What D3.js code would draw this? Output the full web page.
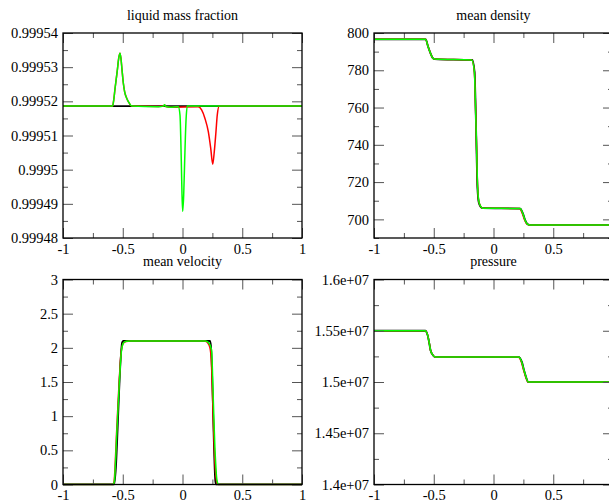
<!DOCTYPE html>
<html><head><meta charset="utf-8">
<script src="https://cdn.jsdelivr.net/npm/d3@7"></script>
<style>body{margin:0;background:#fff}svg{display:block}</style>
</head><body>
<svg id="c" width="609" height="502"></svg>
<script>
// ---------- tick values / labels ----------
const xMajor = [-1, -0.5, 0, 0.5, 1];
const xMinor = [-0.75, -0.25, 0.25, 0.75];
const xLabels = ["-1", "-0.5", "0", "0.5", "1"];

const lmfMajor = [0.99948, 0.99949, 0.9995, 0.99951, 0.99952, 0.99953, 0.99954];
const lmfMinor = [0.999485, 0.999495, 0.999505, 0.999515, 0.999525, 0.999535];
const lmfLabels = ["0.99948", "0.99949", "0.9995", "0.99951", "0.99952", "0.99953", "0.99954"];

const rhoMajor = [700, 720, 740, 760, 780, 800];
const rhoMinor = [690, 710, 730, 750, 770, 790];
const rhoLabels = ["700", "720", "740", "760", "780", "800"];

const velMajor = [0, 0.5, 1, 1.5, 2, 2.5, 3];
const velMinor = [0.25, 0.75, 1.25, 1.75, 2.25, 2.75];
const velLabels = ["0", "0.5", "1", "1.5", "2", "2.5", "3"];

const preMajor = [1.4e7, 1.45e7, 1.5e7, 1.55e7, 1.6e7];
const preMinor = [1.425e7, 1.475e7, 1.525e7, 1.575e7];
const preLabels = ["1.4e+07", "1.45e+07", "1.5e+07", "1.55e+07", "1.6e+07"];

// ---------- liquid mass fraction ----------
const lmfBlackX = [-1, 1];
const lmfBlackY = [0.9995186, 0.9995186];
const lmfRedX = [-1, -0.585, -0.575, -0.565, -0.545, -0.534, -0.523, -0.515, -0.506, -0.495, -0.484, -0.467, -0.448, -0.425,
  -0.2, -0.16, -0.15, -0.14, -0.1, 0.132, 0.16, 0.188, 0.216, 0.236, 0.253, 0.266, 0.28, 0.291, 0.308, 1];
const lmfRedY = [0.9995186, 0.9995186, 0.9995205, 0.9995236, 0.9995292, 0.9995326, 0.9995341, 0.9995326, 0.9995292, 0.9995253, 0.9995228, 0.9995209, 0.9995196, 0.9995186,
  0.9995185, 0.9995186, 0.9995189, 0.9995185, 0.9995183, 0.9995184, 0.9995175, 0.999515, 0.9995111, 0.9995063, 0.9995016, 0.9995053, 0.9995111, 0.999516, 0.9995186, 0.9995186];
const lmfGreenX = [-1, -0.585, -0.575, -0.565, -0.545, -0.534, -0.523, -0.515, -0.506, -0.495, -0.484, -0.467, -0.448, -0.425,
  -0.2, -0.16, -0.15, -0.14, -0.1, -0.05, -0.035, -0.021, -0.01, -0.004, 0.0017, 0.01, 0.018, 0.029, 0.04, 0.1, 1];
const lmfGreenY = [0.9995186, 0.9995186, 0.9995205, 0.9995236, 0.9995292, 0.9995326, 0.9995341, 0.9995326, 0.9995292, 0.9995253, 0.9995228, 0.9995209, 0.9995196, 0.9995186,
  0.9995184, 0.9995186, 0.999519, 0.9995185, 0.9995183, 0.9995184, 0.9995184, 0.999516, 0.9995024, 0.9994926, 0.9994878, 0.9994926, 0.9995024, 0.9995141, 0.9995186, 0.9995186, 0.9995186];

// ---------- mean density ----------
const rhoBlackX = [-1, -0.567, -0.547, -0.527, -0.512, -0.492, -0.178, -0.158, -0.151, -0.142, -0.135, -0.122, -0.095,
  0.224, 0.246, 0.265, 0.283, 0.302, 1];
const rhoBlackY = [796.6, 796.6, 792.6, 789.1, 786.9, 786, 785.5, 779, 764, 737, 717.5, 708.6, 706,
  705.8, 703.2, 699.6, 697.5, 697, 697];
const rhoRedX = [-1, -0.569, -0.547, -0.527, -0.512, -0.49, -0.182, -0.16, -0.152, -0.141, -0.133, -0.119, -0.09,
  0.218, 0.242, 0.262, 0.281, 0.303, 1];
const rhoRedY = [796.6, 796.6, 792.6, 789.1, 786.9, 786, 785.5, 779.2, 764, 737, 717.5, 708.6, 706,
  705.8, 703, 699.4, 697.4, 697, 697];
const rhoGreenX = [-1, -0.569, -0.547, -0.527, -0.512, -0.49, -0.182, -0.16, -0.152, -0.141, -0.133, -0.119, -0.09,
  0.222, 0.245, 0.264, 0.283, 0.305, 1];
const rhoGreenY = [796.6, 796.6, 792.6, 789.1, 786.9, 786, 785.5, 779.2, 764, 737, 717.5, 708.6, 706,
  705.8, 703.2, 699.6, 697.5, 697, 697];

// ---------- mean velocity ----------
const velBlackX = [-1, -0.572, -0.505, -0.495, 0.23, 0.238, 0.275, 0.282, 1];
const velBlackY = [0, 0, 2.08, 2.1, 2.1, 2.03, 0.05, 0, 0];
const velRedX = [-1, -0.582, -0.572, -0.562, -0.552, -0.542, -0.532, -0.522, -0.512, -0.502, -0.492, -0.472, -0.44,
  0.185, 0.2, 0.212, 0.222, 0.232, 0.24, 0.247, 0.254, 0.261, 0.268, 0.276, 0.284, 0.292, 0.3, 1];
const velRedY = [0, 0, 0.05, 0.35, 0.75, 1.1, 1.45, 1.75, 1.96, 2.04, 2.075, 2.093, 2.1,
  2.1, 2.09, 2.07, 2.04, 1.98, 1.85, 1.55, 1.15, 0.78, 0.45, 0.2, 0.06, 0.01, 0, 0];
const velGreenX = [-1, -0.58, -0.57, -0.56, -0.55, -0.54, -0.53, -0.52, -0.51, -0.5, -0.49, -0.47, -0.44,
  0.19, 0.205, 0.215, 0.225, 0.235, 0.244, 0.25, 0.257, 0.264, 0.271, 0.278, 0.285, 0.292, 0.3, 1];
const velGreenY = [0, 0, 0.05, 0.35, 0.75, 1.1, 1.45, 1.75, 1.97, 2.05, 2.08, 2.095, 2.1,
  2.1, 2.095, 2.08, 2.06, 2.02, 1.95, 1.7, 1.28, 0.9, 0.55, 0.3, 0.11, 0.03, 0, 0];

// ---------- pressure ----------
const preBlackX = [-1, -0.571, -0.551, -0.537, -0.527, -0.507, -0.492, 0.212, 0.238, 0.256, 0.272, 0.29, 1];
const preBlackY = [1.55e7, 1.55e7, 1.5455e7, 1.5374e7, 1.531e7, 1.5262e7, 1.5245e7, 1.5243e7, 1.5194e7, 1.5113e7, 1.505e7, 1.5e7, 1.5e7];
const preRedX = [-1, -0.573, -0.551, -0.537, -0.527, -0.507, -0.49, 0.204, 0.233, 0.252, 0.269, 0.289, 1];
const preRedY = [1.55e7, 1.55e7, 1.5457e7, 1.5376e7, 1.531e7, 1.5262e7, 1.5245e7, 1.5243e7, 1.5196e7, 1.5115e7, 1.505e7, 1.5e7, 1.5e7];
const preGreenX = [-1, -0.573, -0.551, -0.537, -0.527, -0.507, -0.49, 0.208, 0.236, 0.255, 0.272, 0.291, 1];
const preGreenY = [1.55e7, 1.55e7, 1.5457e7, 1.5376e7, 1.531e7, 1.5262e7, 1.5245e7, 1.5243e7, 1.5196e7, 1.5115e7, 1.505e7, 1.5e7, 1.5e7];

// ---------- drawing ----------
const svg = d3.select("#c");
const W = 239, H = 205;
const FONT = "'Liberation Serif','Times New Roman',serif";
const colors = ["#000000", "#ff0000", "#00ff00"];
const widths = [1.8, 1.5, 1.5];

const panels = [
  { title: "liquid mass fraction", left: 63, top: 33, yDomain: [0.99948, 0.99954], yMajor: lmfMajor, yMinor: lmfMinor, yLabels: lmfLabels,
    series: [[lmfBlackX, lmfBlackY], [lmfRedX, lmfRedY], [lmfGreenX, lmfGreenY]] },
  { title: "mean density", left: 374, top: 33, yDomain: [690, 800], yMajor: rhoMajor, yMinor: rhoMinor, yLabels: rhoLabels,
    series: [[rhoBlackX, rhoBlackY], [rhoRedX, rhoRedY], [rhoGreenX, rhoGreenY]] },
  { title: "mean velocity", left: 63, top: 279.5, yDomain: [0, 3], yMajor: velMajor, yMinor: velMinor, yLabels: velLabels,
    series: [[velBlackX, velBlackY], [velRedX, velRedY], [velGreenX, velGreenY]] },
  { title: "pressure", left: 374, top: 279.5, yDomain: [1.4e7, 1.6e7], yMajor: preMajor, yMinor: preMinor, yLabels: preLabels,
    series: [[preBlackX, preBlackY], [preRedX, preRedY], [preGreenX, preGreenY]] }
];

panels.forEach((p, i) => {
  const x = d3.scaleLinear().domain([-1, 1]).range([p.left, p.left + W]);
  const y = d3.scaleLinear().domain(p.yDomain).range([p.top + H, p.top]);
  const g = svg.append("g");

  const clipId = "clip" + i;
  svg.append("clipPath").attr("id", clipId).append("rect")
    .attr("x", p.left).attr("y", p.top - 1).attr("width", W).attr("height", H + 2);

  // series
  const line = d3.line().curve(d3.curveMonotoneX).x(d => x(d[0])).y(d => y(d[1]));
  p.series.forEach((s, k) => {
    const pts = s[0].map((xv, j) => [xv, s[1][j]]);
    g.append("path").attr("d", line(pts)).attr("fill", "none")
      .attr("stroke", colors[k]).attr("stroke-width", widths[k])
      .attr("stroke-linejoin", "round").attr("clip-path", `url(#${clipId})`);
  });

  const labelFmt = (arr, labs) => v => { const idx = arr.indexOf(v); return idx >= 0 ? labs[idx] : ""; };

  const mk = (axisFn, scale, vals, size, fmt, transform, pad) => {
    const a = axisFn(scale).tickValues(vals).tickSize(size).tickPadding(pad).tickFormat(fmt || (() => ""));
    const ag = g.append("g").attr("transform", transform).call(a);
    ag.select(".domain").remove();
    ag.selectAll("line").attr("stroke", "#555").attr("stroke-width", 1);
    ag.selectAll("text").attr("font-family", FONT).attr("font-size", "14.5px").attr("fill", "#000");
    return ag;
  };
  const bx = `translate(0,${p.top + H})`, tx = `translate(0,${p.top})`;
  const ly = `translate(${p.left},0)`, ry = `translate(${p.left + W},0)`;
  mk(d3.axisBottom, x, xMajor, -10, labelFmt(xMajor, xLabels), bx, 5.5);
  mk(d3.axisBottom, x, xMinor, -5, null, bx, 5.5);
  mk(d3.axisTop, x, xMajor, -10, null, tx, 3);
  mk(d3.axisTop, x, xMinor, -5, null, tx, 3);
  mk(d3.axisLeft, y, p.yMajor, -10, labelFmt(p.yMajor, p.yLabels), ly, 5);
  mk(d3.axisLeft, y, p.yMinor, -5, null, ly, 5);
  mk(d3.axisRight, y, p.yMajor, -10, null, ry, 3);
  mk(d3.axisRight, y, p.yMinor, -5, null, ry, 3);

  g.append("rect").attr("x", p.left).attr("y", p.top).attr("width", W).attr("height", H)
    .attr("fill", "none").attr("stroke", "#000").attr("stroke-width", 1.3);

  g.append("text").attr("x", p.left + W / 2).attr("y", p.top - 13.5)
    .attr("text-anchor", "middle").attr("font-family", FONT).attr("font-size", "14px")
    .attr("fill", "#000").text(p.title);
});
</script>
</body></html>
